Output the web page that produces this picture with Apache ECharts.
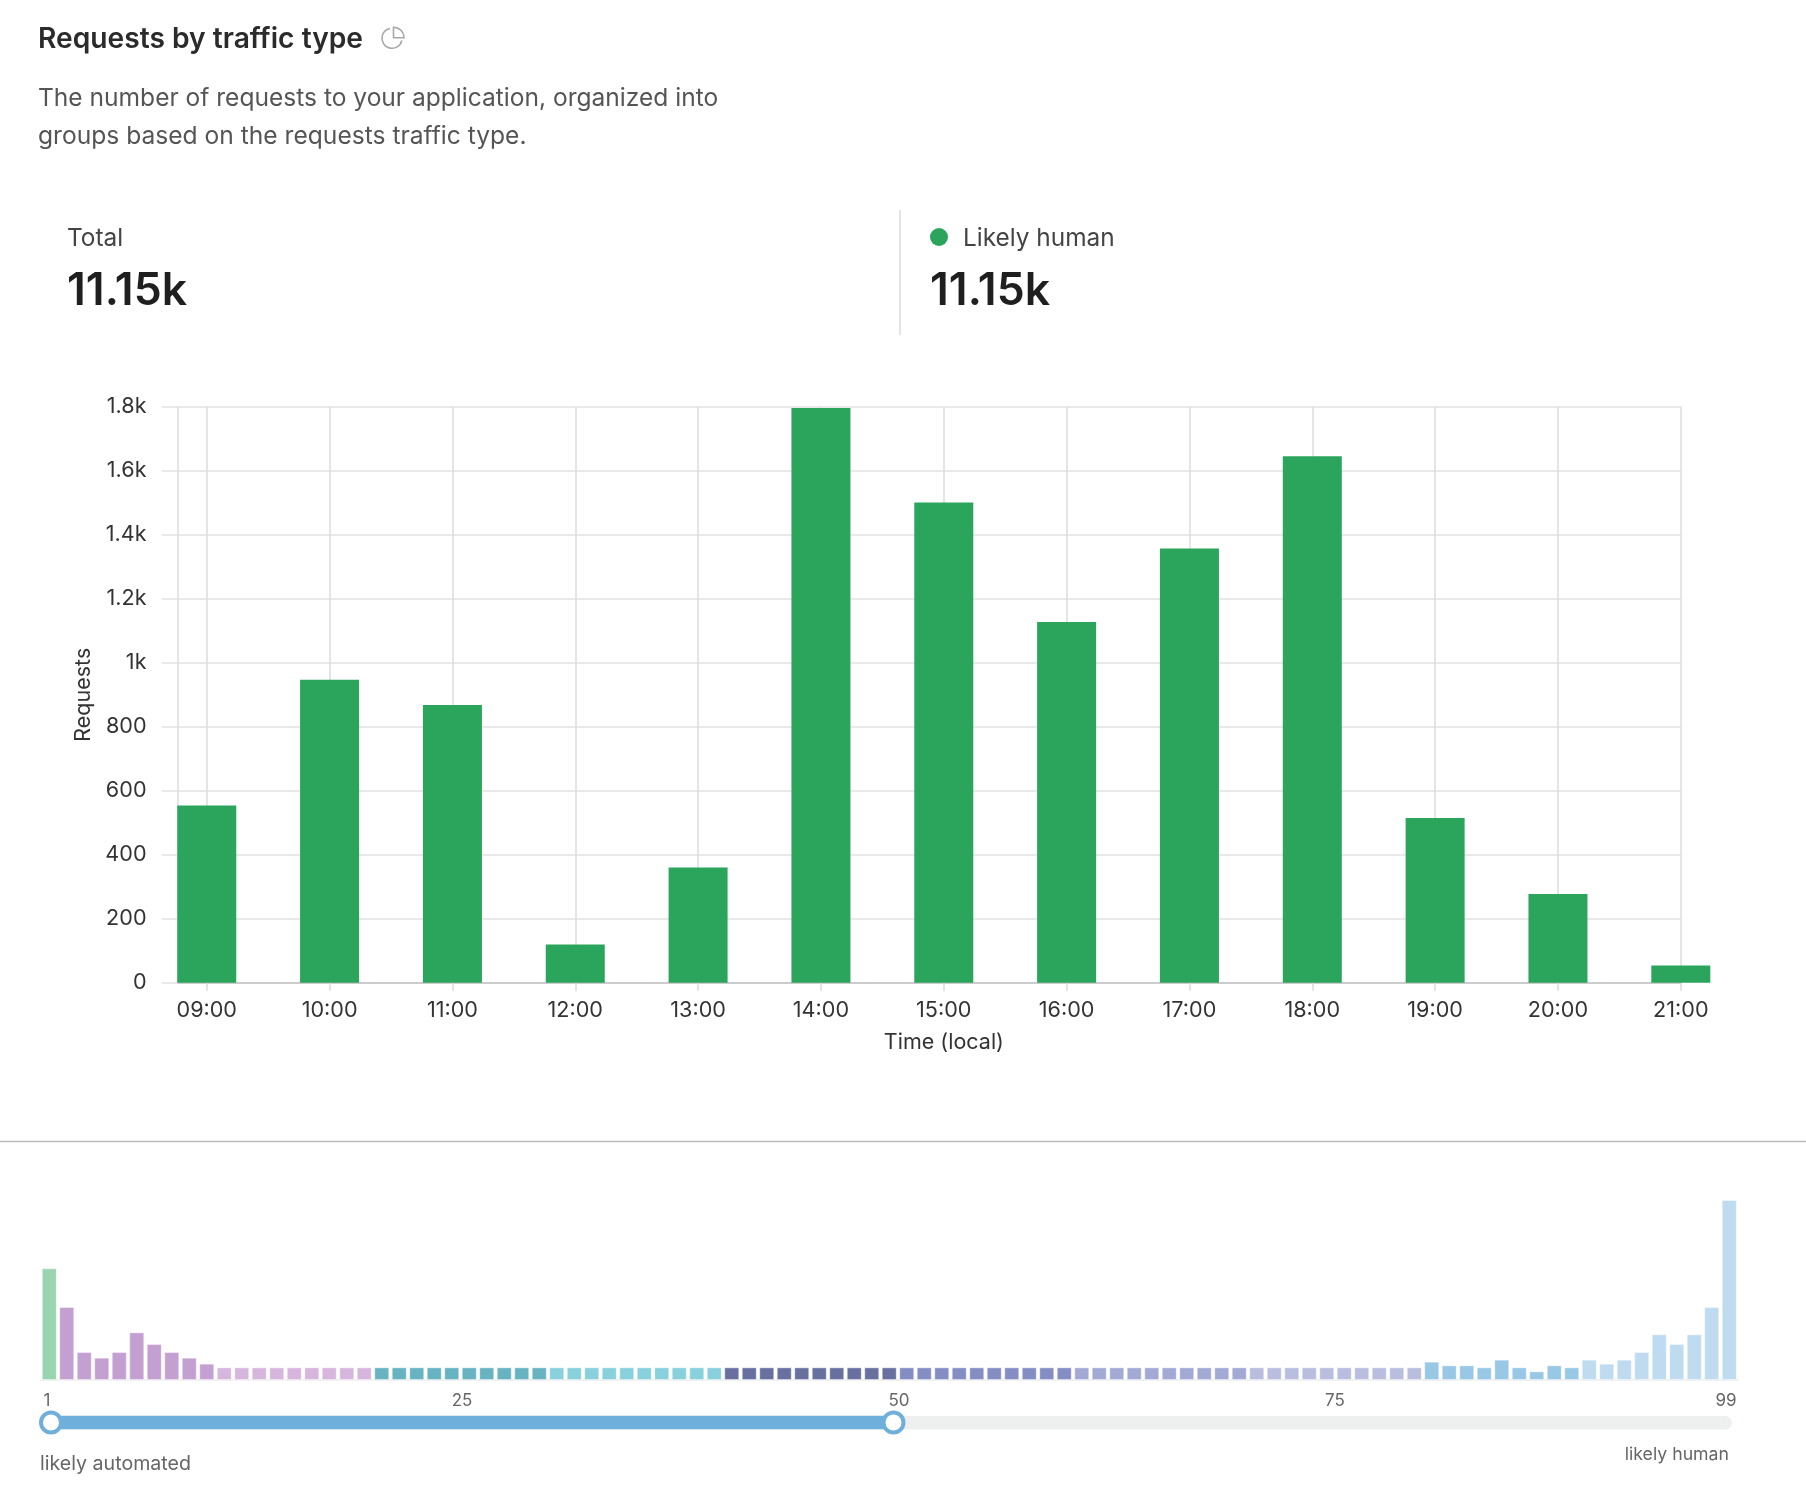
<!DOCTYPE html>
<html><head><meta charset="utf-8">
<style>html,body{margin:0;padding:0;background:#fff}#c{width:1806px;height:1502px}</style>
<script src="https://cdn.jsdelivr.net/npm/echarts@6/dist/echarts.min.js"></script>
</head><body><div id="c"></div>
<script>
const hourLabels = ["09:00","10:00","11:00","12:00","13:00","14:00","15:00","16:00","17:00","18:00","19:00","20:00","21:00"];
const requestsPerHour = [554,947,868,119,360,1796,1501,1127,1357,1645,515,277,54];
const yTicks = [0,200,400,600,800,1000,1200,1400,1600,1800];
const histogram = [335,219,84,67,84,143,108,84,67,49,
  38,38,38,38,38,38,38,38,38,
  38,38,38,38,38,38,38,38,38,38,
  38,38,38,38,38,38,38,38,38,38,
  38,38,38,38,38,38,38,38,38,38,
  38,38,38,38,38,38,38,38,38,38,
  38,38,38,38,38,38,38,38,38,38,
  38,38,38,38,38,38,38,38,38,38,
  55,44,44,38,61,38,26,44,38,
  61,49,61,84,137,108,137,219,540];
const groupSizes = [1,9,9,10,10,10,10,10,10,9,9];
const groupColors = ["#9ad4b0","#c49fd1","#d6b6dc","#67b3c1","#88d0db","#6870a0","#858ec4","#a2a9d5","#b9bedf","#98c8e6","#bedbf0"];
const sliderRange = [1,50];
const sliderTicks = ["1","25","50","75","99"];
const sliderTickX = [47,462,899,1335,1726];
const totalLabel = "11.15k";

const barColors = [];
groupSizes.forEach((n,i)=>{for(let k=0;k<n;k++)barColors.push(groupColors[i]);});
const FONT = 'Inter, "Noto Sans", sans-serif';
const t = (x,y,text,size,fill,weight,align)=>({type:'text',silent:true,style:{x,y,text,fill,align:align||'left',verticalAlign:'middle',font:`${weight||400} ${size}px ${FONT}`}});

const chart = echarts.init(document.getElementById('c'),null,{renderer:'canvas'});
chart.setOption({
  animation:false,
  backgroundColor:'#ffffff',
  textStyle:{fontFamily:FONT},
  grid:[
    {left:178,right:125.2,top:406.7,height:576,containLabel:false},
    {left:40.5,width:1697.5,top:1200,height:180},
    {left:51,width:1685,top:1400,height:45}
  ],
  xAxis:[
    {type:'value',gridIndex:0,min:-0.234,max:12,
      axisLine:{show:true,onZero:false,lineStyle:{color:'#cccccc',width:2}},
      axisTick:{show:true,length:8,customValues:hourLabels.map((_,i)=>i),lineStyle:{color:'#dcdcdc',width:1.5}},
      axisLabel:{customValues:hourLabels.map((_,i)=>i),formatter:v=>hourLabels[v]||'',color:'#333333',fontSize:21.6,margin:17,hideOverlap:false},
      splitLine:{show:true,lineStyle:{color:'#dcdcdc',width:1.5}},
      name:'Time (local)',nameLocation:'middle',nameGap:49,
      nameTextStyle:{color:'#333333',fontSize:21.5,padding:[0,0,0,29]}},
    {type:'category',gridIndex:1,data:histogram.map((_,i)=>i+1),
      axisLine:{show:true,lineStyle:{color:'#f2f2f2',width:2}},axisTick:{show:false},axisLabel:{show:false},splitLine:{show:false}},
    {type:'value',gridIndex:2,min:1,max:99,show:false}
  ],
  yAxis:[
    {type:'value',gridIndex:0,min:yTicks[0],max:yTicks[yTicks.length-1],interval:200,
      axisLine:{show:true,onZero:false,lineStyle:{color:'#dcdcdc',width:1.5}},
      axisTick:{show:true,length:16,lineStyle:{color:'#e2e2e2',width:1.5}},
      axisLabel:{color:'#333333',fontSize:21.6,margin:31.5,formatter:v=>v>=1000?(v/1000)+'k':String(v)},
      splitLine:{show:true,lineStyle:{color:'#e2e2e2',width:1.5}},
      name:'Requests',nameLocation:'middle',nameGap:78.5,nameRotate:90,
      nameTextStyle:{color:'#333333',fontSize:21.5}},
    {type:'value',gridIndex:1,min:0,max:540,show:false},
    {type:'value',gridIndex:2,min:0,max:1,show:false}
  ],
  series:[
    {type:'bar',xAxisIndex:0,yAxisIndex:0,clip:false,barWidth:59,z:3,
      itemStyle:{color:'#2ba55c'},
      data:requestsPerHour.map((v,i)=>[i,v])},
    {type:'bar',xAxisIndex:1,yAxisIndex:1,barWidth:15,z:3,
      itemStyle:{color:p=>barColors[p.dataIndex],borderColor:'rgba(255,255,255,0.4)',borderWidth:1},
      data:histogram},
    {type:'line',xAxisIndex:2,yAxisIndex:2,z:5,silent:true,
      symbol:'circle',symbolSize:20,showSymbol:true,
      lineStyle:{color:'#6eafdb',width:13.5},
      itemStyle:{color:'#ffffff',borderColor:'#6eafdb',borderWidth:4,opacity:1},
      data:sliderRange.map(v=>[v,0.5])}
  ],
  graphic:[
    t(38,40,'Requests by traffic type',28.2,'#2b2b2b',600),
    {type:'group',x:392,y:38.3,silent:true,children:[
      {type:'arc',shape:{cx:0,cy:0,r:10,startAngle:0.2,endAngle:Math.PI*1.5-0.2,clockwise:true},style:{fill:'none',stroke:'#a8a8a8',lineWidth:1.6}},
      {type:'sector',shape:{cx:1.5,cy:-0.6,r0:0,r:10.5,startAngle:-Math.PI/2,endAngle:0,clockwise:true},style:{fill:'none',stroke:'#a8a8a8',lineWidth:1.6}}
    ]},
    t(38,99,'The number of requests to your application, organized into',24.55,'#555555'),
    t(38,137,'groups based on the requests traffic type.',24.6,'#555555'),
    t(67,239,'Total',24.4,'#444444'),
    t(67,292,totalLabel,44.5,'#1f1f1f',600),
    {type:'line',silent:true,shape:{x1:900,y1:210,x2:900,y2:335},style:{stroke:'#dddddd',lineWidth:1.5}},
    {type:'circle',silent:true,shape:{cx:939,cy:237,r:9},style:{fill:'#2ba55c'}},
    t(963,239,'Likely human',24.4,'#444444'),
    t(930,292,totalLabel,44.5,'#1f1f1f',600),
    {type:'line',silent:true,shape:{x1:0,y1:1141.5,x2:1806,y2:1141.5},style:{stroke:'#bdbdbd',lineWidth:1.5}},
    {type:'rect',silent:true,z:-1,shape:{x:45,y:1416,width:1687,height:13.5,r:6.75},style:{fill:'#eef0ef'}},
    ...sliderTicks.map((s,i)=>t(sliderTickX[i],1401,s,17,'#666666',400,'center')),
    t(40,1464,'likely automated',19.6,'#666666'),
    t(1729,1455,'likely human',17.7,'#666666',400,'right')
  ]
});
</script></body></html>
